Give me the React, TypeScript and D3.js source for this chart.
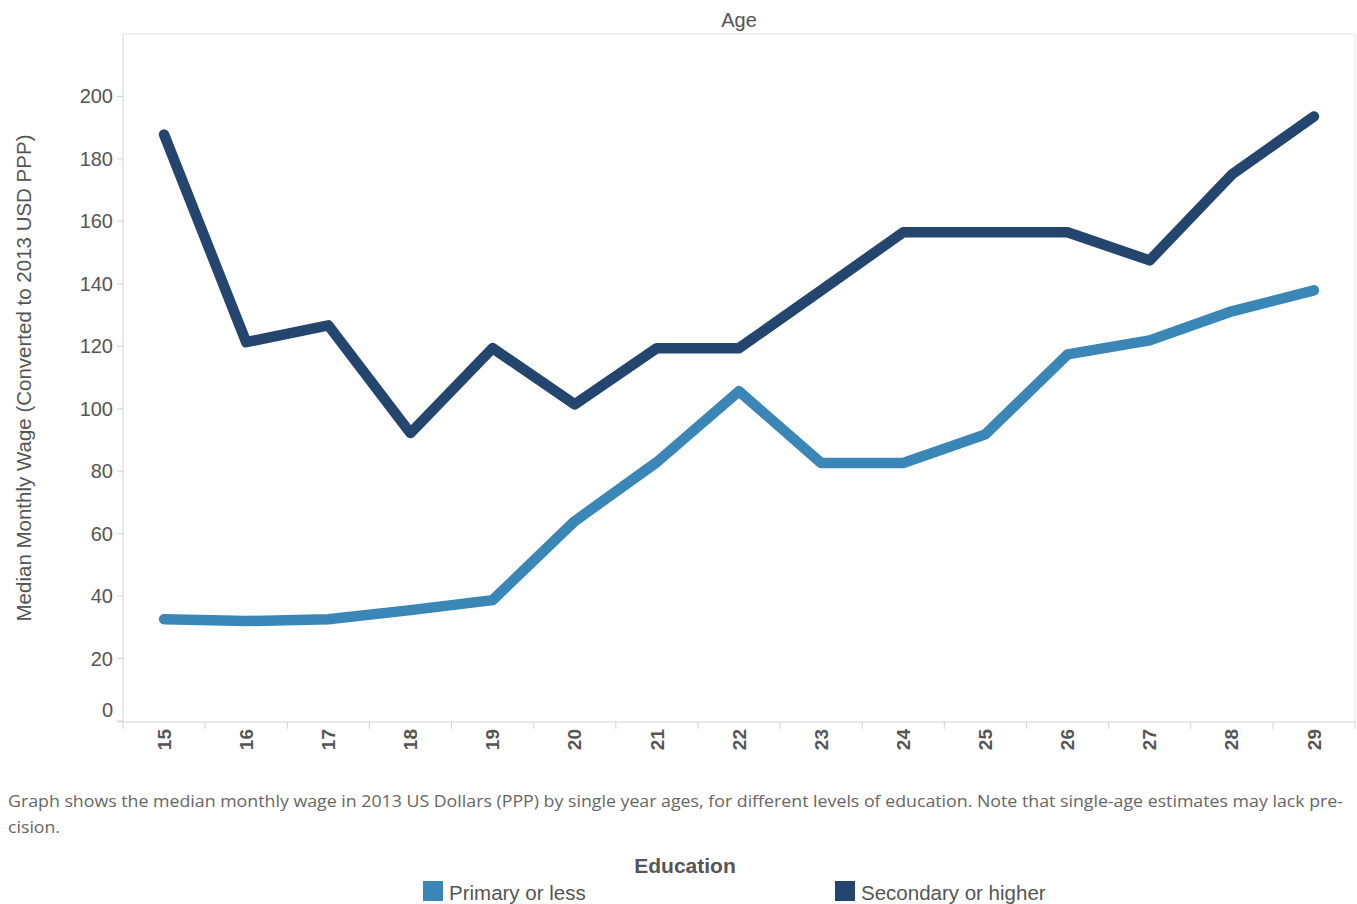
import React from "react";
import * as d3 from "d3";

const ages = ["15","16","17","18","19","20","21","22","23","24","25","26","27","28","29"];
const primary = [32.6, 32, 32.6, 35.5, 38.7, 64, 82.9, 105.6, 82.6, 82.6, 91.8, 117.4, 121.9, 131.2, 137.9];
const secondary = [187.8, 121.3, 126.7, 92.2, 119.4, 101.4, 119.4, 119.4, 137.9, 156.5, 156.5, 156.5, 147.5, 175, 193.6];
const yTicks = [0, 20, 40, 60, 80, 100, 120, 140, 160, 180, 200];
const seriesNames = ["Primary or less", "Secondary or higher"];
const colors = ["#3a87b7", "#24466e"];

const W = 1357, H = 904;
const left = 123, right = 1355, top = 34, bottom = 722;

export default function App() {
  const x = d3.scaleBand<string>().domain(ages).range([left, right]).paddingInner(0).paddingOuter(0);
  const y = d3.scaleLinear().domain([0, 220]).range([721, top]);
  const line = d3.line<number>()
    .x((_, i) => (x(ages[i]) as number) + x.bandwidth() / 2)
    .y((d) => y(d));
  const font = "'Liberation Sans', Arial, sans-serif";
  const gray = "#555";
  const axisCol = "#d4d4d4";
  return (
    <svg width={W} height={H} style={{ position: "absolute", left: 0, top: 0 }}>
      <rect x={0} y={0} width={W} height={H} fill="#fff" />
      {/* plot frame */}
      <line x1={left} x2={right} y1={top} y2={top} stroke="#e2e2e2" strokeWidth={1} />
      <line x1={right} x2={right} y1={top} y2={bottom} stroke="#e2e2e2" strokeWidth={1} />
      <line x1={left} x2={left} y1={top} y2={bottom} stroke={axisCol} strokeWidth={1} />
      <line x1={left - 6} x2={right} y1={bottom} y2={bottom} stroke={axisCol} strokeWidth={1} />
      {/* y ticks */}
      {yTicks.map((t) => (
        <g key={t}>
          <line x1={left - 6} x2={left} y1={y(t)} y2={y(t)} stroke={axisCol} />
          <text x={113} y={t === 0 ? y(t) - 11 : y(t)} dy="0.35em" textAnchor="end" fontFamily={font} fontSize={20} fill={gray}>{t}</text>
        </g>
      ))}
      {/* x ticks */}
      {ages.map((a) => (
        <line key={"t" + a} x1={(x(a) as number)} x2={(x(a) as number)} y1={bottom} y2={bottom + 7} stroke={axisCol} />
      ))}
      <line x1={right} x2={right} y1={bottom} y2={bottom + 7} stroke={axisCol} />
      {ages.map((a) => {
        const cx = (x(a) as number) + x.bandwidth() / 2;
        return (
          <text key={"l" + a} transform={`translate(${cx},${729}) rotate(-90)`} textAnchor="end" dy="0.35em"
            fontFamily={font} fontSize={19} fontWeight="bold" fill={gray}>{a}</text>
        );
      })}
      {/* titles */}
      <text x={(left + right) / 2} y={27} textAnchor="middle" fontFamily={font} fontSize={20} fill={gray}>Age</text>
      <text transform={`translate(31,${(top + bottom) / 2}) rotate(-90)`} textAnchor="middle" fontFamily={font} fontSize={20.5} fill={gray}>
        Median Monthly Wage (Converted to 2013 USD PPP)
      </text>
      {/* lines */}
      {[primary, secondary].map((s, k) => (
        <path key={k} d={line(s) as string} fill="none" stroke={colors[k]} strokeWidth={10.5} strokeLinecap="round" strokeLinejoin="round" />
      ))}
      {/* caption */}
      <text x={8} y={807} fontFamily="'Open Sans', sans-serif" fontSize={16} fill="#666" textLength={1335} lengthAdjust="spacingAndGlyphs">
        Graph shows the median monthly wage in 2013 US Dollars (PPP) by single year ages, for different levels of education. Note that single-age estimates may lack pre-
      </text>
      <text x={8} y={833} fontFamily="'Open Sans', sans-serif" fontSize={16} fill="#666" textLength={52} lengthAdjust="spacingAndGlyphs">cision.</text>
      {/* legend */}
      <text x={685} y={873} textAnchor="middle" fontFamily={font} fontSize={21} fontWeight="bold" fill={gray}>Education</text>
      {seriesNames.map((n, k) => {
        const lx = k === 0 ? 423 : 835;
        return (
          <g key={n}>
            <rect x={lx} y={881} width={20} height={20} fill={colors[k]} />
            <text x={lx + 26} y={900} fontFamily={font} fontSize={20.5} fill={gray}>{n}</text>
          </g>
        );
      })}
    </svg>
  );
}
